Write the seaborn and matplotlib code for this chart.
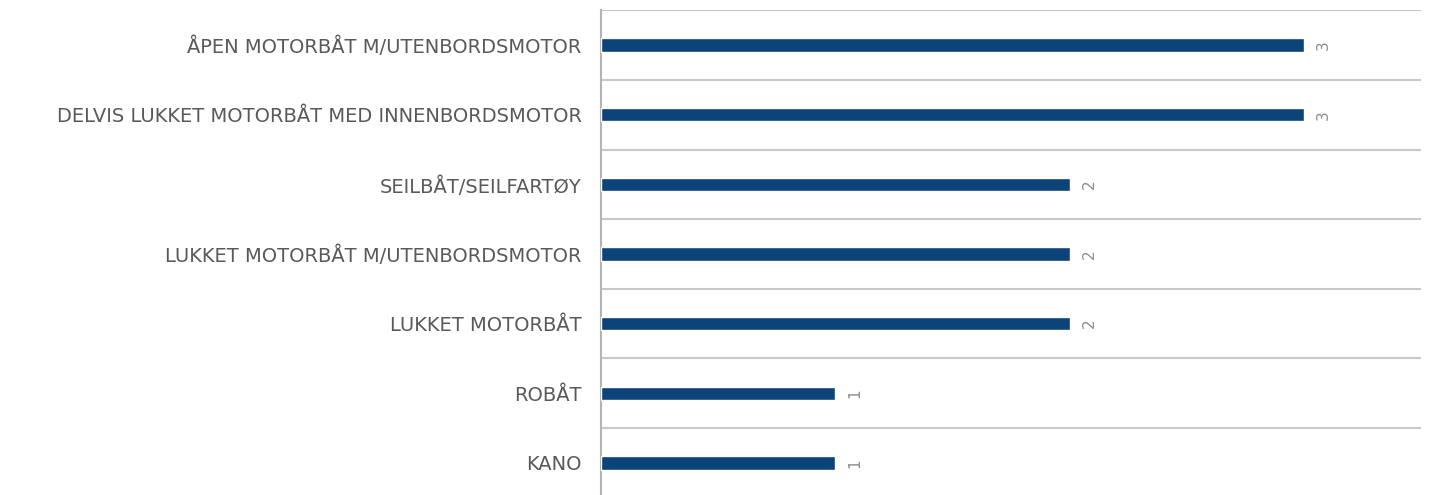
import matplotlib
matplotlib.use("Agg")
import matplotlib.pyplot as plt
import seaborn as sns
import pandas as pd
import numpy as np

categories = [
    "ÅPEN MOTORBÅT M/UTENBORDSMOTOR",
    "DELVIS LUKKET MOTORBÅT MED INNENBORDSMOTOR",
    "SEILBÅT/SEILFARTØY",
    "LUKKET MOTORBÅT M/UTENBORDSMOTOR",
    "LUKKET MOTORBÅT",
    "ROBÅT",
    "KANO",
]
values = [3, 3, 2, 2, 2, 1, 1]

df = pd.DataFrame({"category": categories, "value": values})

sns.set_theme(style="white")
plt.rcParams["font.family"] = ["DejaVu Sans"]

W, H = 1429, 495
fig = plt.figure(figsize=(W / 100, H / 100), dpi=100)
left, right = 601 / W, 1421 / W
top_px, bot_px = 10.2, 497.8
ax = fig.add_axes([left, 1 - bot_px / H, right - left, (bot_px - top_px) / H])

sns.barplot(data=df, x="value", y="category", orient="h", color="#0c4479",
            width=0.19, saturation=1, ax=ax, zorder=3)

ax.set_xlim(0, 3.5)
ax.set_ylim(len(categories) - 0.5, -0.5)
ax.set_xlabel("")
ax.set_ylabel("")
ax.set_xticks([])

# category boundary gridlines
ax.set_yticks(np.arange(-0.5, len(categories), 1.0), minor=True)
ax.grid(True, which="minor", axis="y", color="#c8c8c8", linewidth=1.5)
ax.grid(False, which="major")
ax.tick_params(axis="y", which="both", length=0)
ax.tick_params(axis="y", which="major", pad=14, labelsize=14, labelcolor="#595959")

for s in ["top", "right", "bottom"]:
    ax.spines[s].set_visible(False)
ax.spines["left"].set_color("#b4b4b4")
ax.spines["left"].set_linewidth(1.5)

for i, v in enumerate(values):
    ax.annotate(str(v), xy=(v, i), xytext=(14, 0), textcoords="offset points",
                rotation=90, ha="center", va="center", fontsize=11,
                color="#8c8c8c")

fig.savefig("out.png", dpi=100)
